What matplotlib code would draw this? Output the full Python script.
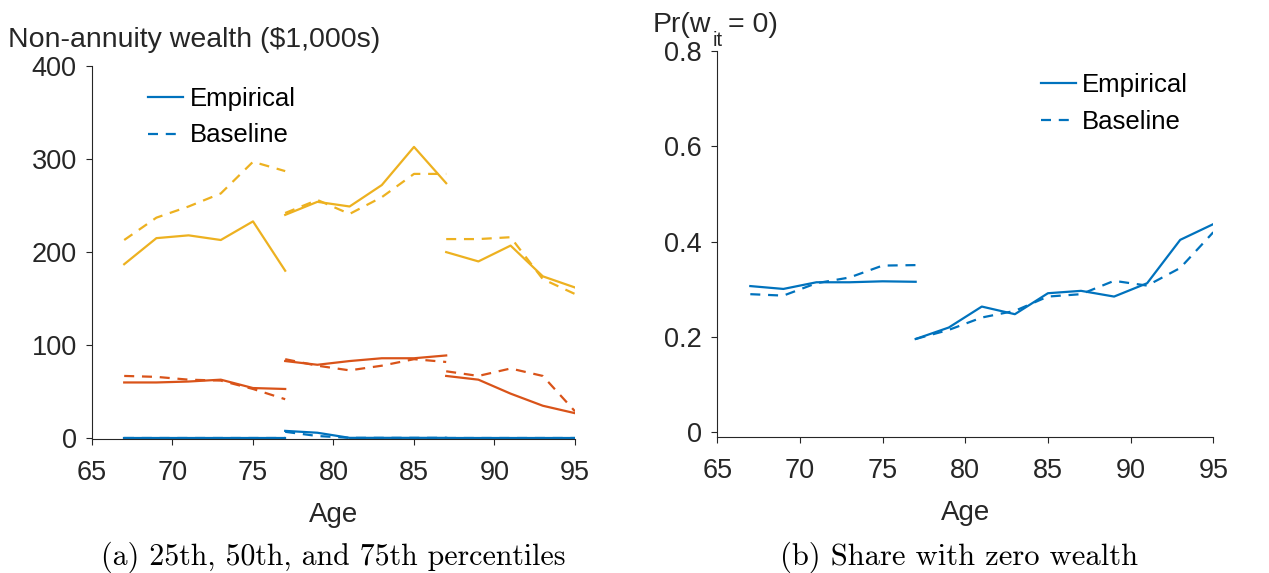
import matplotlib
matplotlib.use('Agg')
import matplotlib.pyplot as plt
import numpy as np

plt.rcParams['font.family'] = ['Liberation Sans', 'DejaVu Sans']

# MATLAB default colours
BLUE = '#0072BD'
ORANGE = '#D95319'
YELLOW = '#EDB120'

# age groups (three cohorts)
ages1 = [67, 69, 71, 73, 75, 77]
ages2 = [77, 79, 81, 83, 85, 87]
ages3 = [87, 89, 91, 93, 95]

# wealth percentiles, $1,000s
p75_emp = [[187, 215, 218, 213, 233, 180],
           [240, 254, 249, 272, 313, 274],
           [200, 190, 207, 174, 162]]
p75_base = [[213, 237, 249, 263, 297, 287],
            [242, 256, 241, 259, 284, 284],
            [214, 214, 216, 171, 155]]
p50_emp = [[60, 60, 61, 63, 54, 53],
           [83, 79, 83, 86, 86, 89],
           [67, 63, 48, 35, 27]]
p50_base = [[67, 66, 63, 62, 53, 42],
            [85, 78, 73, 78, 85, 82],
            [72, 67, 75, 67, 29]]
p25_emp = [[0.5, 0.5, 0.5, 0.5, 0.5, 0.5],
           [8, 6, 0.5, 0.5, 0.5, 0.5],
           [0.5, 0.5, 0.5, 0.5, 0.5]]
p25_base = [[0.5, 0.5, 0.5, 0.5, 0.5, 0.5],
            [7, 2.5, 0.5, 0.5, 0.5, 0.5],
            [0.5, 0.5, 0.5, 0.5, 0.5]]

# share with zero wealth
zages1 = [67, 69, 71, 73, 75, 77]
zages2 = [77, 79, 81, 83, 85, 87, 89, 91, 93, 95]
zero_emp = [[0.307, 0.301, 0.315, 0.315, 0.317, 0.316],
            [0.196, 0.220, 0.264, 0.248, 0.292, 0.297, 0.285, 0.313, 0.404, 0.437]]
zero_base = [[0.290, 0.287, 0.313, 0.325, 0.350, 0.351],
             [0.196, 0.215, 0.241, 0.255, 0.285, 0.290, 0.318, 0.308, 0.345, 0.420]]

age_groups = [ages1, ages2, ages3]
zage_groups = [zages1, zages2]

LW = 1.6
DASH = (0, (4.5, 3.5))
TXT = '#262626'
FS = 19.5

fig = plt.figure(figsize=(12.69, 5.73), dpi=100)
ax1 = fig.add_axes([0.0725, 0.2339, 0.3806, 0.6511])
ax2 = fig.add_axes([0.5652, 0.2379, 0.3909, 0.6729])


def style(ax):
    for s in ['top', 'right']:
        ax.spines[s].set_visible(False)
    for s in ['left', 'bottom']:
        ax.spines[s].set_color(TXT)
        ax.spines[s].set_linewidth(0.8)
    ax.tick_params(direction='out', length=4, width=0.8, colors=TXT,
                   labelsize=FS)
    ax.tick_params(axis='x', pad=11)
    ax.tick_params(axis='y', pad=7)
    ax.set_xlim(65, 95)
    ax.set_xticks([65, 70, 75, 80, 85, 90, 95])
    ax.set_xlabel('Age', fontsize=20, color=TXT, labelpad=12)


def add_legend(ax, x, y):
    h1 = ax.plot([], [], color=BLUE, lw=LW, label='Empirical')[0]
    h2 = ax.plot([], [], color=BLUE, lw=LW, linestyle=DASH, label='Baseline')[0]
    ax.legend(handles=[h1, h2], loc='upper left', bbox_to_anchor=(x, y),
              frameon=False, fontsize=18.5, handlelength=1.36,
              handletextpad=0.25, labelspacing=0.48, borderpad=0,
              borderaxespad=0)


# panel (a)
for col, emp, base in [(YELLOW, p75_emp, p75_base),
                       (ORANGE, p50_emp, p50_base),
                       (BLUE, p25_emp, p25_base)]:
    for a, e, b in zip(age_groups, emp, base):
        ax1.plot(a, e, color=col, lw=LW)
        ax1.plot(a, b, color=col, lw=LW, linestyle=DASH)

ax1.set_ylim(-0.7, 400)
ax1.set_yticks([0, 100, 200, 300, 400])
style(ax1)
add_legend(ax1, 0.116, 0.943)
fig.text(0.006, 0.918, 'Non-annuity wealth ($1,000s)', fontsize=20.5,
         color=TXT, va='baseline', ha='left')

# panel (b)
for a, e, b in zip(zage_groups, zero_emp, zero_base):
    ax2.plot(a, e, color=BLUE, lw=LW)
    ax2.plot(a, b, color=BLUE, lw=LW, linestyle=DASH)

ax2.set_ylim(-0.009, 0.8)
ax2.set_yticks([0, 0.2, 0.4, 0.6, 0.8])
ax2.set_yticklabels(['0', '0.2', '0.4', '0.6', '0.8'])
style(ax2)
add_legend(ax2, 0.652, 0.942)

# Pr(w_it = 0) with a low subscript
fig.text(652.7 / 1269, 1 - 32 / 573, 'Pr(w', fontsize=20.5, color=TXT,
         va='baseline', ha='left')
fig.text(712.7 / 1269, 1 - 46 / 573, 'it', fontsize=14.5, color=TXT,
         va='baseline', ha='left')
fig.text(728 / 1269, 1 - 32 / 573, '= 0)', fontsize=20.5, color=TXT,
         va='baseline', ha='left')

# captions
fig.text(0.263, 0.028, '(a) 25th, 50th, and 75th percentiles', fontsize=21.5,
         family='cmr10', ha='center', va='center')
fig.text(0.756, 0.028, '(b) Share with zero wealth', fontsize=22,
         family='cmr10', ha='center', va='center')

fig.savefig('out.png', dpi=100)
